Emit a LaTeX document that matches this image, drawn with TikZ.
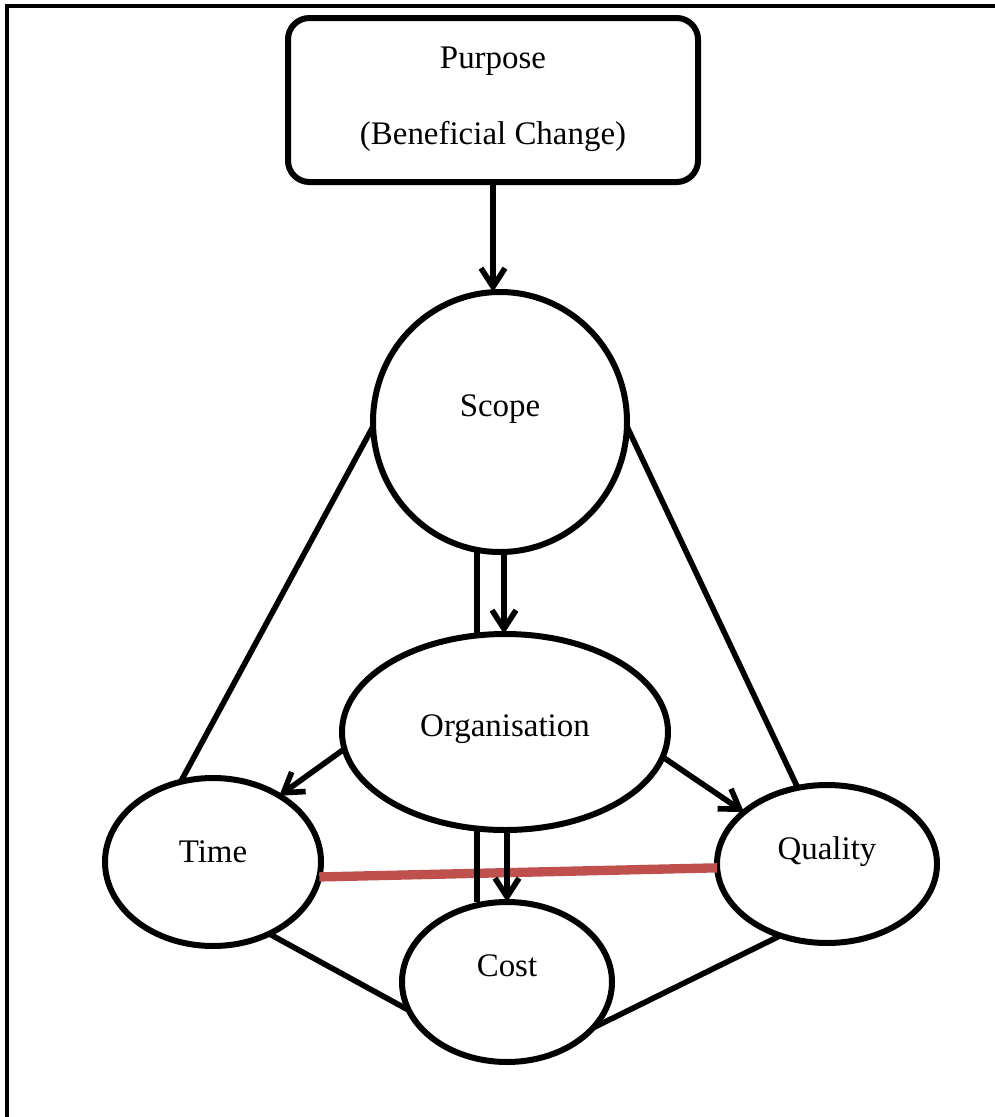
\documentclass[tikz,border=0pt]{standalone}
\usepackage{fontspec}
\setmainfont{Liberation Serif}
\usetikzlibrary{shapes.geometric,arrows.meta,calc}
\definecolor{linkred}{HTML}{C0504D}
\begin{document}
\begin{tikzpicture}[x=0.75pt,y=-0.75pt,
  font=\fontsize{24.7}{30}\selectfont,
  oval/.style={ellipse,draw,line width=4.5pt,inner sep=0pt,outer sep=0pt},
  boxnode/.style={draw,rounded corners=16pt,line width=4.5pt,inner sep=0pt,outer sep=0pt},
  conn/.style={line width=4.2pt},
  arr/.style={conn,-{Straight Barb[length=14pt,width=18pt]}},
  redlink/.style={line width=7pt,draw=linkred}]
\useasboundingbox (0,0) rectangle (995,1117);
\draw[line width=3pt] (7,1117) -- (7,6) -- (995,6);

\node[boxnode,minimum width=307.5pt,minimum height=123pt,
  label={[align=center,yshift=0.75pt,font=\fontsize{24.7}{57}\selectfont]center:{Purpose\\(Beneficial Change)}}] (purpose) at (493,100) {};
\node[oval,minimum width=190.5pt,minimum height=195pt,label={[yshift=10pt]center:Scope}] (scope) at (500,422) {};
\node[oval,minimum width=244.5pt,minimum height=147pt,label={[yshift=2pt]center:Organisation}] (org) at (505,732) {};
\node[oval,minimum width=162pt,minimum height=126pt,label={[yshift=7.5pt]center:Time}] (time) at (213,862) {};
\node[oval,minimum width=165pt,minimum height=118.5pt,label={[yshift=9pt]center:Quality}] (quality) at (827,864) {};
\node[oval,minimum width=157.5pt,minimum height=120pt,label={[yshift=12pt]center:Cost}] (cost) at (507,982) {};

\draw[arr] (purpose.south) -- (purpose.south |- scope.north);
\draw[conn] ($(scope.south)+(-23,0)$) -- ($(org.north)+(-28,0)$);
\draw[arr] ($(scope.south)+(4,0)$) -- ($(org.north)+(-1,0)$);
\draw[conn] (scope.182) -- (time.112);
\draw[conn] (scope.-2) -- (quality.111);
\draw[arr] (org.186) -- (time.45);
\draw[arr] (org.-9) -- (quality.148);
\draw[redlink] (time.-8) -- (quality.182);
\draw[conn] ($(org.south)+(-28,0)$) -- ($(cost.north)+(-30,0)$);
\draw[arr] ($(org.south)+(2,0)$) -- (cost.north);
\draw[conn] (time.-52) -- (cost.196);
\draw[conn] (quality.237) -- (cost.-28);
\end{tikzpicture}
\end{document}
